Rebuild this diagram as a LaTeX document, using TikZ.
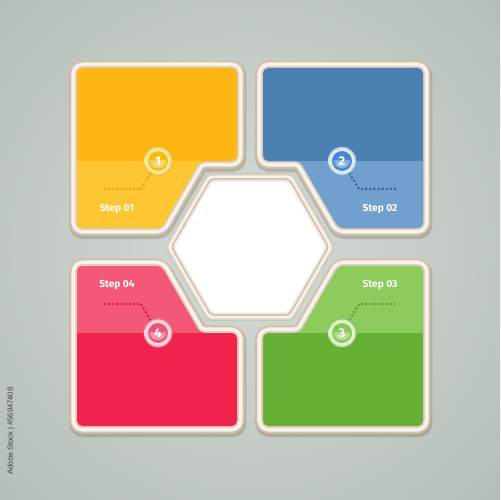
\documentclass[tikz,border=0pt]{standalone}
\usepackage{fontspec}
\setmainfont{Fira Sans}
\newfontfamily\wmfont{Liberation Sans}
\usetikzlibrary{calc}
\definecolor{bgin}{HTML}{D4DBD5}
\definecolor{bgout}{HTML}{98A399}
\definecolor{edgebeige}{HTML}{D3C0AA}
\definecolor{framecream}{HTML}{F7F2EB}
\definecolor{innerbeige}{HTML}{DFCFBD}
\definecolor{ymain}{HTML}{FDB614}
\definecolor{yband}{HTML}{FEC631}
\definecolor{ydot}{HTML}{F2A20A}
\definecolor{yring}{HTML}{FCE283}
\definecolor{yball}{HTML}{F7BC12}
\definecolor{bmain}{HTML}{4A7FB1}
\definecolor{bband}{HTML}{72A0CE}
\definecolor{bdot}{HTML}{2E66A0}
\definecolor{bring}{HTML}{D4E3F2}
\definecolor{bball}{HTML}{4787CC}
\definecolor{gmain}{HTML}{66B134}
\definecolor{gband}{HTML}{8CCB5C}
\definecolor{gdot}{HTML}{5BA532}
\definecolor{gring}{HTML}{D8EFBE}
\definecolor{gball}{HTML}{86C955}
\definecolor{rmain}{HTML}{F0234D}
\definecolor{rband}{HTML}{F45878}
\definecolor{rdot}{HTML}{D91A45}
\definecolor{rring}{HTML}{F9CAD5}
\definecolor{rball}{HTML}{E8577A}
\tikzset{
  pshadow/.style={draw=black!60!brown, draw opacity=0.2, line width=9.8pt, line join=round, rounded corners=3pt},
  pedge/.style={draw=edgebeige, line width=8.6pt, line join=round, rounded corners=3pt},
  pframe/.style={draw=framecream, line width=6.3pt, line join=round, rounded corners=3pt},
  pinner/.style={draw=innerbeige, line width=2.2pt, line join=round, rounded corners=3pt},
  pfill/.style={fill=#1, rounded corners=3pt},
  shapeA/.style={insert path={(77,68) -- (237,68) -- (237,161) -- (200,161) -- (161.3,228) -- (77,228) -- cycle}},
  shapeB/.style={insert path={(263,68) -- (423,68) -- (423,228) -- (338.7,228) -- (300,161) -- (263,161) -- cycle}},
  shapeC/.style={insert path={(263,333) -- (300,333) -- (338.7,266) -- (423,266) -- (423,426) -- (263,426) -- cycle}},
  shapeD/.style={insert path={(77,266) -- (161.3,266) -- (200,333) -- (237,333) -- (237,426) -- (77,426) -- cycle}},
  hexpath/.style={insert path={([shift={(0:#1)}]hex) -- ([shift={(60:#1)}]hex) -- ([shift={(120:#1)}]hex) -- ([shift={(180:#1)}]hex) -- ([shift={(240:#1)}]hex) -- ([shift={(300:#1)}]hex) -- cycle}},
  dots/.style={draw=#1, line width=1.6pt, line cap=round, dash pattern=on 0pt off 2.35pt},
  steplabel/.style={text=white, font=\fontsize{5.8}{7}\selectfont\bfseries, inner sep=0pt},
  numlabel/.style={text=white, font=\fontsize{7.2}{8}\selectfont\bfseries, inner sep=0pt},
}
\newcommand{\badge}[4]{% center, ring, ball, outline
  \fill[#4] (#1) circle (14.6);
  \shade[inner color=white, outer color=#2] (#1) circle (13.6);
  \fill[#2] (#1) circle (11.6);
  \fill[white, opacity=0.55] (#1) circle (11);
  \fill[#3] (#1) circle (10);
  \fill[white, opacity=0.3] ([yshift=-0.1pt]#1) ++(-8.6,-1) arc[start angle=180, end angle=360, x radius=8.6, y radius=-8.2] -- cycle;
  \fill[white, opacity=0.18] (#1) ++(0,3) ellipse [x radius=6, y radius=3.5];
}
\begin{document}
\begin{tikzpicture}[x=0.02cm,y=-0.02cm]
\useasboundingbox (0,0) rectangle (500,500);
\begin{scope}
  \clip (0,0) rectangle (500,500);
  \shade[inner color=bgin, outer color=bgout] (250,247) circle (700);
\end{scope}
\coordinate (hex) at (250,247);
% panels: shadows and frames
\foreach \s in {shapeA,shapeB,shapeC,shapeD}{
  \path[pshadow, shift={(0.8,2.5)}, \s];
}
\foreach \s in {shapeA,shapeB,shapeC,shapeD}{
  \path[pedge, \s];
  \path[pframe, \s];
  \path[pinner, \s];
}
% panel colours
\path[pfill=ymain, shapeA];
\begin{scope}
  \clip[rounded corners=3pt, shapeA];
  \fill[yband] (0,161) rectangle (500,240);
\end{scope}
\path[pfill=bmain, shapeB];
\begin{scope}
  \clip[rounded corners=3pt, shapeB];
  \fill[bband] (0,161) rectangle (500,240);
\end{scope}
\path[pfill=gmain, shapeC];
\begin{scope}
  \clip[rounded corners=3pt, shapeC];
  \fill[gband] (0,250) rectangle (500,333);
\end{scope}
\path[pfill=rmain, shapeD];
\begin{scope}
  \clip[rounded corners=3pt, shapeD];
  \fill[rband] (0,250) rectangle (500,333);
\end{scope}
% central hexagon
\path[fill=black!60!brown, fill opacity=0.16, shift={(0.8,2.5)}, rounded corners=2pt, hexpath=85];
\path[fill=edgebeige!70!white, rounded corners=2pt, hexpath=84.5];
\path[fill=framecream, rounded corners=2pt, hexpath=82.5];
\path[fill=edgebeige, rounded corners=2pt, hexpath=79.5];
\path[fill=edgebeige!50!white, rounded corners=2pt, hexpath=77.8];
\path[fill=edgebeige!20!white, rounded corners=2pt, hexpath=76.5];
\path[fill=white, rounded corners=2pt, hexpath=75];
% circle centres and dotted connectors
\coordinate (c1) at (158,161);
\coordinate (c2) at (342,161);
\coordinate (c3) at (342,333);
\coordinate (c4) at (158,333);
\coordinate (d1a) at (105,189);
\coordinate (d1b) at (141,189);
\coordinate (d2a) at (395,189);
\coordinate (d2b) at (359,189);
\coordinate (d3a) at (395,304);
\coordinate (d3b) at (359,304);
\coordinate (d4a) at (105,304);
\coordinate (d4b) at (141,304);
\draw[dots=ydot] (d1a) -- (d1b) -- (c1);
\draw[dots=bdot] (d2a) -- (d2b) -- (c2);
\draw[dots=gdot] (d3a) -- (d3b) -- (c3);
\draw[dots=rdot] (d4a) -- (d4b) -- (c4);
% badges
\badge{c1}{yring}{yball}{ydot!80!white}
\badge{c2}{bring}{bball}{bdot!60!white}
\badge{c3}{gring}{gball}{gdot!70!white}
\badge{c4}{rring}{rball}{rdot!60!white}
\node[numlabel] (n1) at (c1) {1};
\node[numlabel] (n2) at (c2) {2};
\node[numlabel] (n3) at (c3) {3};
\node[numlabel] (n4) at (c4) {4};
% labels
\node[steplabel] (t1) at (117,209) {Step 01};
\node[steplabel] (t2) at (380,209) {Step 02};
\node[steplabel] (t3) at (380,285) {Step 03};
\node[steplabel] (t4) at (117,285) {Step 04};
% side credit
\node[rotate=90, text=black!75, font=\wmfont\fontsize{4.3}{5}\selectfont, inner sep=0pt] (wm) at (11,431) {Adobe Stock | \#56947408};
\end{tikzpicture}
\end{document}
